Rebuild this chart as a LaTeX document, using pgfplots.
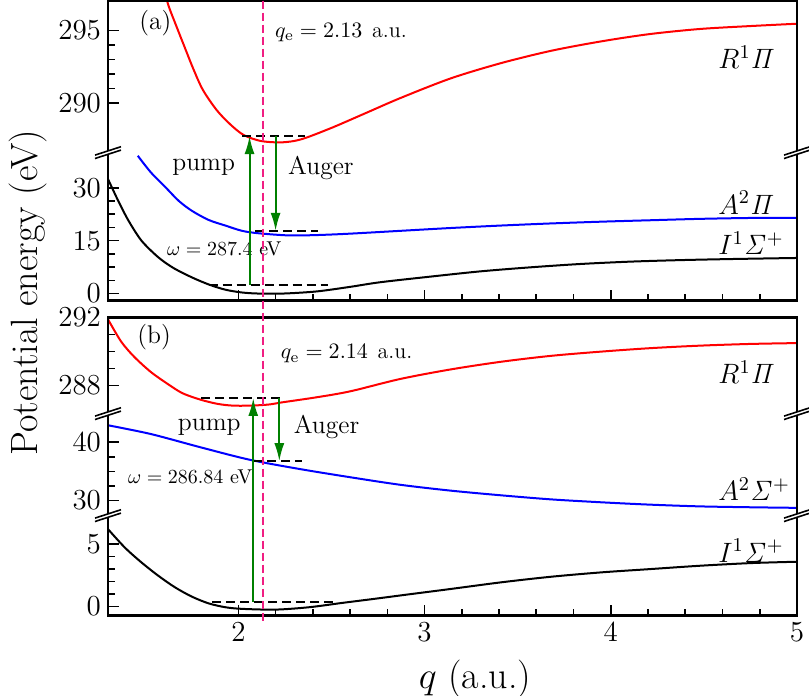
\RequirePackage{fix-cm}
\documentclass[border=0pt]{standalone}
\usepackage{pgfplots}
\pgfplotsset{compat=1.18}
\usetikzlibrary{arrows.meta}

\definecolor{qline}{RGB}{240,30,130}
\definecolor{arrowgreen}{RGB}{0,128,0}

\pgfplotsset{
  seg/.style={
    scale only axis, width=344.5pt,
    xmin=1.3, xmax=5,
    anchor=north west,
    axis line style={draw=none},
    tick align=inside, xtick pos=bottom, ytick pos=left,
    major tick length=5.5pt, minor tick length=3.5pt,
    tick style={black, line width=0.8pt},
    tick label style={font=\fontsize{14.5}{17}\selectfont},
    yticklabel style={inner ysep=0.5pt},
    xtick=\empty,
    every axis plot/.append style={line width=1pt},
  },
  xbot/.style={xtick={2,3,4,5}, minor x tick num=4},
}
\tikzset{
  lab/.style={anchor=west, font=\fontsize{14}{17}\selectfont},
  ann/.style={font=\fontsize{12.8}{15}\selectfont},
  sml/.style={anchor=west, font=\fontsize{10}{12}\selectfont},
  hd/.style={black, line width=0.9pt, dash pattern=on 4.5pt off 2.5pt},
}
\newcommand{\brk}[2]{%
  \begin{scope}[shift={(#1,#2)}]
    \fill[white] (-6.5pt,-2.95pt) -- (6.5pt,1.25pt) -- (6.5pt,2.95pt) -- (-6.5pt,-1.25pt) -- cycle;
    \draw[line width=0.8pt] (-6.5pt,-2.95pt) -- (6.5pt,1.25pt);
    \draw[line width=0.8pt] (-6.5pt,-1.25pt) -- (6.5pt,2.95pt);
  \end{scope}}

\begin{document}
\begin{tikzpicture}

% ---------- panel (a), upper part
\begin{axis}[seg, at={(0pt,0pt)}, height=76pt,
    ymin=286.6, ymax=297.05, ytick={290,295}, minor y tick num=4]
\addplot[red, smooth] coordinates {
 (1.60,297.9)(1.625,296.7)(1.67,295.2)(1.71,293.9)(1.76,292.3)(1.81,290.9)
 (1.885,289.5)(1.96,288.5)(2.03,287.8)(2.12,287.4)(2.22,287.3)(2.30,287.4)
 (2.37,287.65)(2.51,288.35)(2.69,289.35)(2.87,290.35)(3.14,291.7)(3.41,292.75)
 (3.68,293.6)(3.95,294.25)(4.21,294.75)(4.48,295.1)(4.75,295.3)(5.0,295.46)};
\addplot[hd] coordinates {(2.02,287.74)(2.36,287.74)};
\node[lab] at (axis cs:4.54,293.15) {$R^1\mathit{\Pi}$};
\node[ann, anchor=west] at (axis cs:1.43,295.5) {(a)};
\node[sml, font=\fontsize{11}{13}\selectfont] at (axis cs:2.16,294.86) {$q_{\mathrm{e}}=2.13$\;\,a.u.};
\coordinate (pa1) at (axis cs:2.06,287.74);
\coordinate (aa1) at (axis cs:2.20,287.74);
\coordinate (qtop) at (axis cs:2.13,297.05);
\end{axis}

% ---------- panel (a), lower part
\begin{axis}[seg, xbot, xticklabels={}, at={(0pt,-76pt)}, height=74pt,
    ymin=-2, ymax=40, ytick={0,15,30}, minor y tick num=3]
\addplot[blue, smooth] coordinates {
 (1.46,39.1)(1.53,34.4)(1.61,30.1)(1.68,26.3)(1.75,23.5)(1.84,20.9)(1.93,19.3)
 (2.02,17.8)(2.11,17.1)(2.27,16.5)(2.42,16.6)(2.60,17.0)(2.87,17.8)(3.14,18.6)
 (3.41,19.3)(3.68,19.9)(3.95,20.4)(4.21,20.8)(4.48,21.2)(4.75,21.45)(5.0,21.5)};
\addplot[black, smooth] coordinates {
 (1.30,32.5)(1.355,26.3)(1.41,20.7)(1.48,15.0)(1.57,10.3)(1.65,7.3)(1.75,4.6)
 (1.84,2.6)(1.93,1.1)(2.02,0.3)(2.11,0.0)(2.24,0.0)(2.42,0.6)(2.60,1.9)
 (2.76,3.2)(3.03,4.8)(3.30,6.3)(3.57,7.45)(3.84,8.4)(4.11,9.07)(4.38,9.5)
 (4.65,9.8)(5.0,10.1)};
\addplot[hd] coordinates {(2.09,17.8)(2.43,17.8)};
\addplot[hd] coordinates {(1.84,2.5)(2.48,2.5)};
\node[lab] at (axis cs:4.54,25.8) {$A^2\mathit{\Pi}$};
\node[lab] at (axis cs:4.54,14.4) {$I^1\mathit{\Sigma}^+$};
\node[ann, anchor=east] at (axis cs:2.02,35.7) {pump};
\node[ann, anchor=west] at (axis cs:2.23,35.7) {Auger};
\node[sml] at (axis cs:1.58,12.7) {$\omega=287.4$ eV};
\coordinate (pa0) at (axis cs:2.06,2.5);
\coordinate (aa0) at (axis cs:2.20,17.8);
\end{axis}

% ---------- panel (b), upper part
\begin{axis}[seg, at={(0pt,-158.5pt)}, height=48pt,
    ymin=286.35, ymax=292, ytick={288,292}, minor y tick num=3]
\addplot[red, smooth] coordinates {
 (1.30,291.9)(1.37,290.6)(1.44,289.7)(1.53,288.8)(1.62,288.1)(1.70,287.55)
 (1.80,287.16)(1.89,286.92)(1.97,286.82)(2.06,286.82)(2.16,286.88)(2.24,287.02)
 (2.42,287.31)(2.60,287.66)(2.87,288.39)(3.14,288.95)(3.41,289.4)(3.68,289.75)
 (3.95,290.0)(4.21,290.2)(4.48,290.35)(4.75,290.45)(5.0,290.5)};
\addplot[hd] coordinates {(1.80,287.27)(2.24,287.27)};
\node[lab] at (axis cs:4.54,288.78) {$R^1\mathit{\Pi}$};
\node[ann, anchor=west] at (axis cs:1.42,290.84) {(b)};
\node[sml, font=\fontsize{11}{13}\selectfont] at (axis cs:2.19,289.86) {$q_{\mathrm{e}}=2.14$\;\,a.u.};
\coordinate (pb1) at (axis cs:2.08,287.27);
\coordinate (ab1) at (axis cs:2.22,287.27);
\end{axis}

% ---------- panel (b), middle part
\begin{axis}[seg, at={(0pt,-206.5pt)}, height=51.5pt,
    ymin=27.25, ymax=44.9, ytick={30,40}, minor y tick num=3]
\addplot[blue, smooth] coordinates {
 (1.30,42.9)(1.53,41.4)(1.80,39.1)(2.06,37.0)(2.33,35.4)(2.60,34.0)(2.87,32.7)
 (3.14,31.7)(3.41,30.9)(3.68,30.2)(3.95,29.7)(4.21,29.3)(4.48,29.0)(4.75,28.85)
 (5.0,28.75)};
\addplot[hd] coordinates {(2.08,36.74)(2.34,36.74)};
\node[lab] at (axis cs:4.54,32.0) {$A^2\mathit{\Sigma}^+$};
\node[ann, anchor=east] at (axis cs:2.05,42.6) {pump};
\node[ann, anchor=west] at (axis cs:2.26,42.6) {Auger};
\node[sml] at (axis cs:1.37,34.0) {$\omega=286.84$ eV};
\coordinate (ab0) at (axis cs:2.22,36.74);
\end{axis}

% ---------- panel (b), lower part
\begin{axis}[seg, xbot, at={(0pt,-258pt)}, height=49.5pt,
    ymin=-0.72, ymax=7.2, ytick={0,5}, minor y tick num=4]
\addplot[black, smooth] coordinates {
 (1.30,6.2)(1.39,4.73)(1.48,3.53)(1.57,2.47)(1.66,1.54)(1.75,0.8)(1.84,0.26)
 (1.93,-0.05)(2.02,-0.18)(2.20,-0.24)(2.38,-0.05)(2.56,0.3)(2.73,0.62)
 (2.91,0.97)(3.14,1.41)(3.41,1.94)(3.68,2.39)(3.95,2.74)(4.21,3.0)(4.48,3.27)
 (4.75,3.48)(5.0,3.59)};
\addplot[hd] coordinates {(1.86,0.4)(2.51,0.4)};
\node[lab] at (axis cs:4.54,4.47) {$I^1\mathit{\Sigma}^+$};
\coordinate (pb0) at (axis cs:2.08,0.4);
\coordinate (qbot) at (axis cs:2.13,-0.72);
\end{axis}

% frames and axis breaks
\draw[line width=1.2pt] (0pt,0pt) rectangle (344.5pt,-150pt);
\draw[line width=1.2pt] (0pt,-158.5pt) rectangle (344.5pt,-307.5pt);
\brk{0pt}{-76pt}\brk{344.5pt}{-76pt}
\brk{0pt}{-206.5pt}\brk{344.5pt}{-206.5pt}
\brk{0pt}{-257.5pt}\brk{344.5pt}{-257.5pt}

% equilibrium distance
\draw[qline, line width=1pt, dash pattern=on 4pt off 2pt] (qtop) -- ([yshift=-3.5pt]qbot);

% transitions
\begin{scope}[arrowgreen, line width=1pt, -{Latex[length=9pt,width=5pt]}]
\draw (pa0) -- (pa1);
\draw (aa1) -- (aa0);
\draw (pb0) -- (pb1);
\draw (ab1) -- (ab0);
\end{scope}

% axis titles
\node[rotate=90, anchor=base, font=\fontsize{19}{23}\selectfont] at (-35.5pt,-146pt) {Potential energy (eV)};
\node[anchor=base, font=\fontsize{19}{23}\selectfont] at (183.5pt,-344pt) {$q$ (a.u.)};

\pgfresetboundingbox
\useasboundingbox (-54pt,0.3pt) rectangle (350.5pt,-347.7pt);
\end{tikzpicture}
\end{document}
